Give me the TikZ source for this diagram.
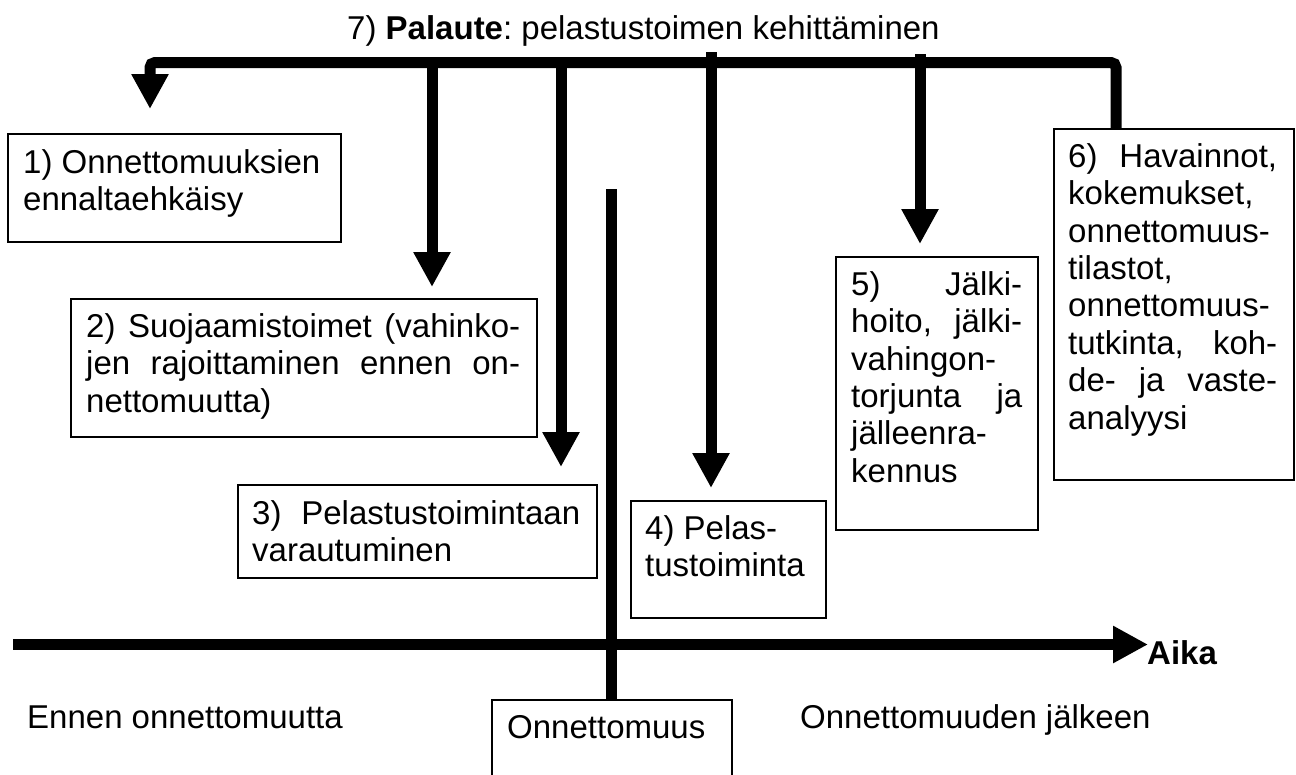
\documentclass[tikz,border=0pt]{standalone}
\usepackage{fontspec}
\setmainfont{Liberation Sans}
\usetikzlibrary{arrows.meta}
\frenchspacing
\newcommand\mystrut{\spaceskip=0pt \xspaceskip=0pt \rule{0pt}{26pt}}
\newcommand\jl[2]{\makebox[#1][s]{#2}}
\begin{document}
\begin{tikzpicture}[x=1pt,y=1pt,
  thickline/.style={line width=11pt},
  arr/.style={line width=11pt,-{Triangle[length=35pt,width=35pt]}},
  box/.style={draw,line width=1.6pt,inner sep=0pt,anchor=north west},
  txt/.style={inner sep=0pt,anchor=north west,align=left,font=\fontsize{33}{37.4}\selectfont},
  lbl/.style={inner sep=0pt,anchor=base west,font=\fontsize{33}{37.4}\selectfont}]
\useasboundingbox (0,0) rectangle (1296,-774);
\clip (0,0) rectangle (1296,-774);
\fill[white] (0,0) rectangle (1296,-774);

% boxes
\node[box,minimum width=333pt,minimum height=108pt] (b1) at (7,-133) {};
\node[box,minimum width=466pt,minimum height=138pt] (b2) at (70,-298) {};
\node[box,minimum width=359pt,minimum height=93pt]  (b3) at (237,-484) {};
\node[box,minimum width=195pt,minimum height=117pt] (b4) at (630,-500) {};
\node[box,minimum width=202pt,minimum height=273pt] (b5) at (835,-256) {};
\node[box,minimum width=240pt,minimum height=351pt] (b6) at (1053,-128) {};
\node[box,minimum width=240pt,minimum height=120pt] (b0) at (491,-699) {};

% box texts
\node[txt,text width=302pt] (t1) at (23,-147) {\mystrut 1) Onnettomuuksien\\ ennaltaehkäisy};
\node[txt,text width=434pt] (t2) at (86,-311) {\mystrut\jl{434pt}{2) Suojaamistoimet (vahinko-}\\ \jl{434pt}{jen rajoittaminen ennen on-}\\ nettomuutta)};
\node[txt,text width=328pt] (t3) at (252,-498) {\mystrut\jl{328pt}{3) Pelastustoimintaan}\\ varautuminen};
\node[txt,text width=165pt] (t4) at (645,-513) {\mystrut 4) Pelas-\\ tustoiminta};
\node[txt,text width=171pt] (t5) at (851,-269) {\mystrut\jl{171pt}{5) Jälki-}\\ \jl{171pt}{hoito, jälki-}\\ vahingon-\\ \jl{171pt}{torjunta ja}\\ jälleenra-\\ kennus};
\node[txt,text width=209pt] (t6) at (1068,-141) {\mystrut\jl{209pt}{6) Havainnot,}\\ kokemukset,\\ onnettomuus-\\ tilastot,\\ onnettomuus-\\ \jl{209pt}{tutkinta, koh-}\\ \jl{209pt}{de- ja vaste-}\\ analyysi};
\node[lbl] (t0) at (507,-738) {Onnettomuus};

% free labels
\node[lbl] (title) at (347,-39) {7) \textbf{Palaute}: pelastustoimen kehittäminen};
\node[lbl] (before) at (27,-728) {Ennen onnettomuutta};
\node[lbl] (after) at (800,-728) {Onnettomuuden jälkeen};
\node[lbl] (aika) at (1147,-664) {\textbf{Aika}};

% connector points
\coordinate (f6) at (1116,-128);
\coordinate (cL) at (150,-62.5);
\coordinate (e1) at (150,-109);
\coordinate (s2) at (432,-62.5);
\coordinate (e2) at (432,-287);
\coordinate (s3) at (561,-62.5);
\coordinate (e3) at (561,-467);
\coordinate (s4) at (711,-52);
\coordinate (e4) at (711,-488);
\coordinate (s5) at (920,-54);
\coordinate (e5) at (920,-244);
\coordinate (v0) at (611.5,-189);
\coordinate (v1) at (611.5,-699);
\coordinate (ax0) at (13,-644.5);
\coordinate (ax1) at (1148,-644.5);

% feedback bar
\draw[arr,rounded corners=5pt] (f6) |- (cL) -- (e1);
\draw[arr] (s2) -- (e2);
\draw[arr] (s3) -- (e3);
\draw[arr] (s4) -- (e4);
\draw[arr] (s5) -- (e5);

% accident line and time axis
\draw[thickline] (v0) -- (v1);
\draw[arr] (ax0) -- (ax1);
\end{tikzpicture}
\end{document}
